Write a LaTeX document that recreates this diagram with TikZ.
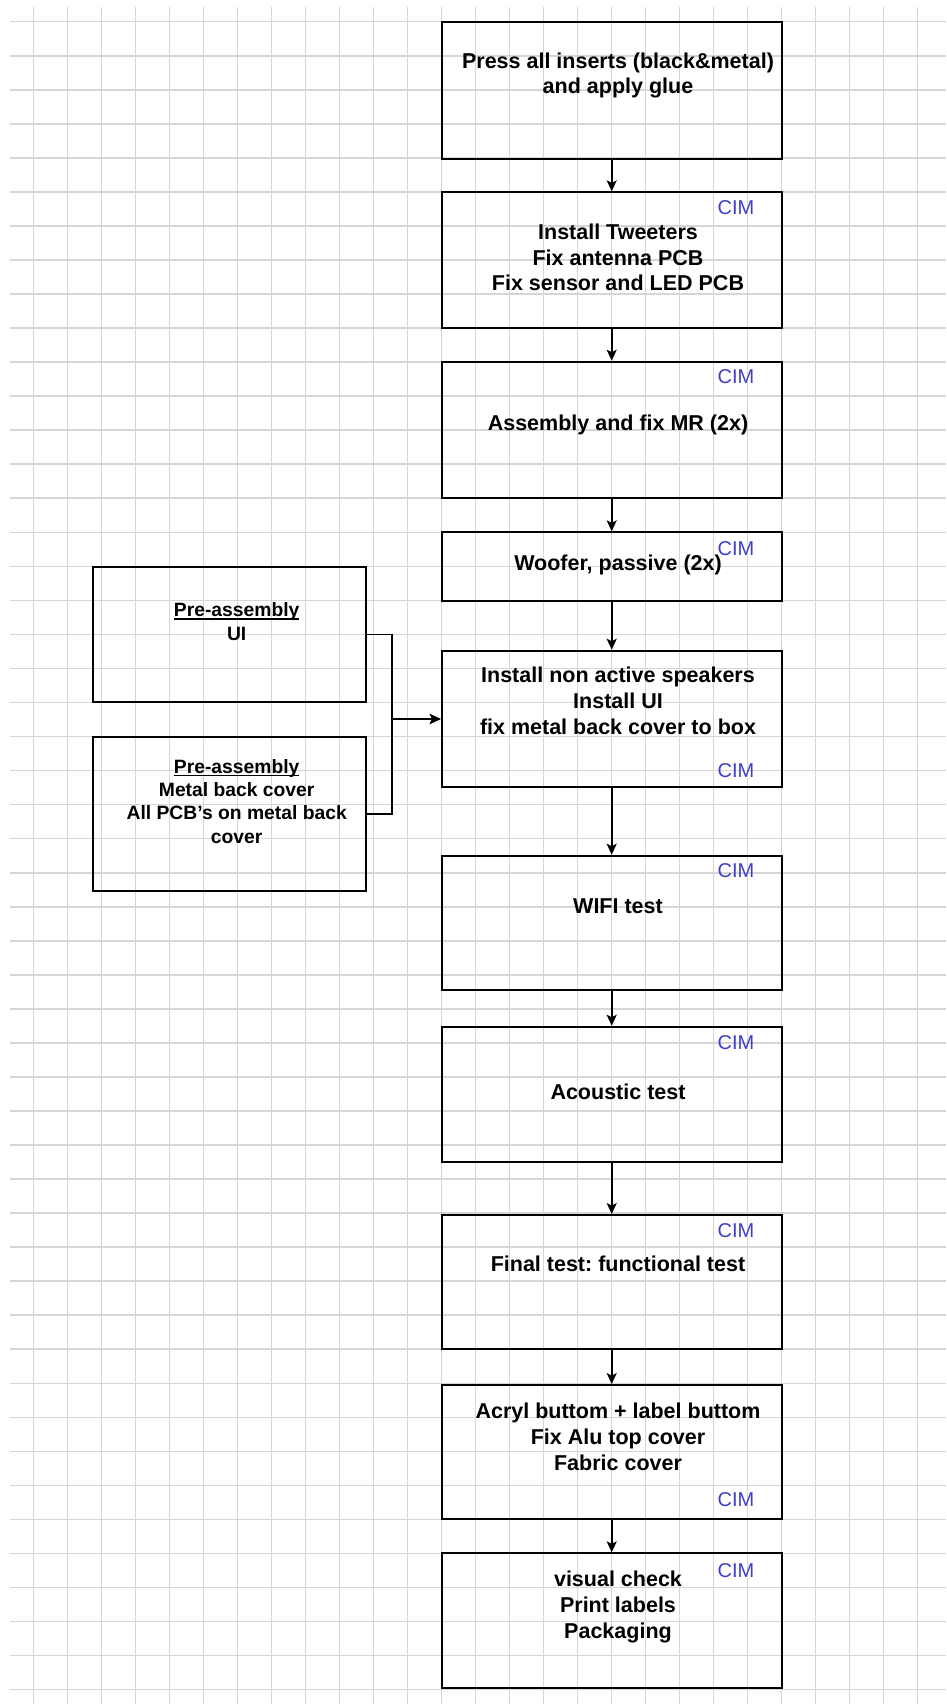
\documentclass[tikz,border=0pt]{standalone}
\usepackage{fontspec}
\setmainfont{Liberation Sans}
\usetikzlibrary{arrows.meta}
\frenchspacing

\definecolor{gridgray}{RGB}{214,214,214}
\definecolor{cimblue}{RGB}{62,62,200}

% underline drawn as a rule just below the baseline
\newcommand{\preul}[1]{\setbox0\hbox{#1}\rlap{\rule[-3pt]{\wd0}{1.6pt}}\box0}

\tikzset{
  gridline/.style={draw=gridgray, line width=1.6pt},
  stepbox/.style={draw=black, line width=1.9pt, inner sep=0pt, minimum width=340pt},
  prebox/.style={draw=black, line width=1.9pt, inner sep=0pt, minimum width=272.4pt},
  steptext/.style={align=center, inner sep=0pt, font=\fontsize{21.5pt}{25.8pt}\selectfont\bfseries},
  pretext/.style={align=center, inner sep=0pt, font=\fontsize{19.3pt}{23.3pt}\selectfont\bfseries},
  cim/.style={inner sep=0pt, text=cimblue, font=\fontsize{20pt}{24pt}\selectfont},
  flow/.style={draw=black, line width=1.7pt, -{Stealth[length=11pt,width=10pt,inset=2.5pt]}},
}

\begin{document}
\begin{tikzpicture}[x=1pt, y=-1pt]
  \useasboundingbox (0,0) rectangle (946,1704);
  \fill[white] (0,0) rectangle (946,1704);

  % background grid
  \foreach \k in {0,...,26}
    \draw[gridline] ({33.3+34*\k},7) -- ({33.3+34*\k},1704);
  \foreach \k in {0,...,49}
    \draw[gridline] (10,{21.7+34.04*\k}) -- (946,{21.7+34.04*\k});

  % main process column
  \node[stepbox, minimum height=137.6pt] (b1)  at (611.7, 90.5)  {};
  \node[stepbox, minimum height=136pt]   (b2)  at (611.7, 260.3) {};
  \node[stepbox, minimum height=136.6pt] (b3)  at (611.7, 430)   {};
  \node[stepbox, minimum height=68.7pt]  (b4)  at (611.7, 566.65){};
  \node[stepbox, minimum height=136.6pt] (b5)  at (611.7, 719)   {};
  \node[stepbox, minimum height=134.3pt] (b6)  at (611.7, 922.85){};
  \node[stepbox, minimum height=135pt]   (b7)  at (611.7, 1094.2){};
  \node[stepbox, minimum height=134.3pt] (b8)  at (611.7, 1282.15){};
  \node[stepbox, minimum height=134.3pt] (b9)  at (611.7, 1452.15){};
  \node[stepbox, minimum height=135pt]   (b10) at (611.7, 1620.8){};

  % pre-assembly boxes
  \node[prebox, minimum height=135.6pt] (pa) at (229.5, 634.5) {};
  \node[prebox, minimum height=154pt]   (pb) at (229.5, 813.7) {};

  % step texts
  \node[steptext] (t1)  at (618, 75.5)  {Press all inserts (black\&metal)\\and apply glue};
  \node[steptext] (t2)  at (618, 257.5) {Install Tweeters\\Fix antenna PCB\\Fix sensor and LED PCB};
  \node[steptext] (t3)  at (618, 425)   {Assembly and fix MR (2x)};
  \node[steptext] (t4)  at (618, 565)   {Woofer, passive (2x)};
  \node[steptext] (t5)  at (618, 701)   {Install non active speakers\\Install UI\\fix metal back cover to box};
  \node[steptext] (t6)  at (618, 906)   {WIFI test};
  \node[steptext] (t7)  at (618, 1092)  {Acoustic test};
  \node[steptext] (t8)  at (618, 1264)  {Final test: functional test};
  \node[steptext] (t9)  at (618, 1437)  {Acryl buttom + label buttom\\Fix Alu top cover\\Fabric cover};
  \node[steptext] (t10) at (618, 1607)  {visual check\\Print labels\\Packaging};

  \node[pretext] (ta) at (236.7, 621.7) {\preul{Pre-assembly}\\UI};
  \node[pretext] (tb) at (236.7, 801.3) {\preul{Pre-assembly}\\Metal back cover\\All PCB’s on metal back\\cover};

  % CIM markers
  \node[cim] (c2)  at (736, 207.3)  {CIM};
  \node[cim] (c3)  at (736, 377)    {CIM};
  \node[cim] (c4)  at (736, 548.3)  {CIM};
  \node[cim] (c5)  at (736, 771)    {CIM};
  \node[cim] (c6)  at (736, 871)    {CIM};
  \node[cim] (c7)  at (736, 1043)   {CIM};
  \node[cim] (c8)  at (736, 1230.5) {CIM};
  \node[cim] (c9)  at (736, 1500)   {CIM};
  \node[cim] (c10) at (736, 1570.7) {CIM};

  % flow connectors
  \foreach \a/\b in {b1/b2, b2/b3, b3/b4, b4/b5, b5/b6, b6/b7, b7/b8, b8/b9, b9/b10}
    \draw[flow] (\a.south) -- (\b.north);

  \coordinate (jn) at (391.7, 719);
  \draw[flow] (pa.east) -| (jn) -- (b5.west);
  \draw[flow] (pb.east) -| (jn) -- (b5.west);
\end{tikzpicture}
\end{document}
